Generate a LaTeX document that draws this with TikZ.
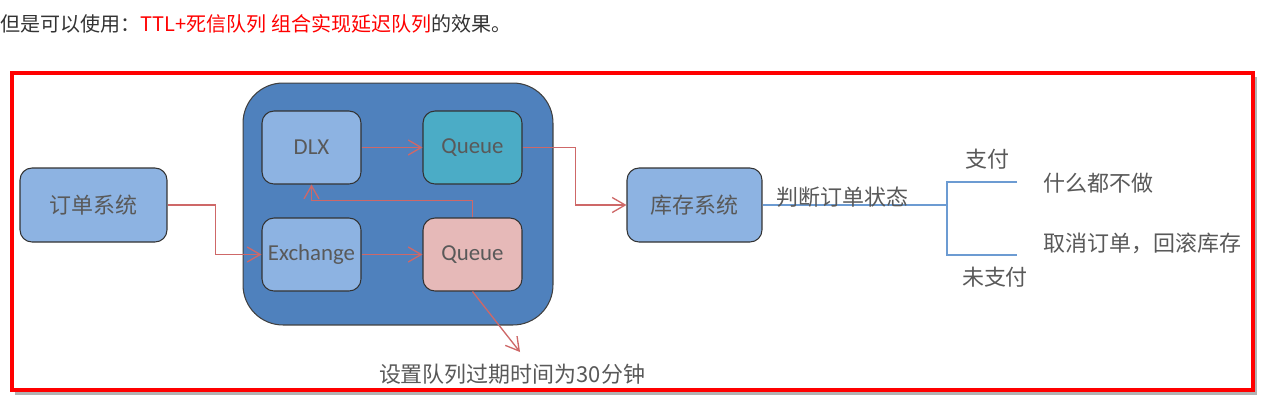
\documentclass[tikz,border=0pt]{standalone}
\usepackage{fontspec}
\newfontfamily\cjk{Noto Sans CJK SC}
\newfontfamily\lat{Carlito}
\usetikzlibrary{arrows.meta}
\definecolor{boxblue}{RGB}{141,179,226}
\definecolor{darkblue}{RGB}{79,129,189}
\definecolor{tealq}{RGB}{75,172,198}
\definecolor{pinkq}{RGB}{230,185,184}
\definecolor{flowred}{RGB}{206,104,104}
\definecolor{lineblue}{RGB}{108,155,210}
\definecolor{textgray}{RGB}{89,89,89}
\begin{document}
\begin{tikzpicture}[x=0.02cm,y=-0.02cm,
	box/.style={rectangle,rounded corners=0.24cm,draw=black!80,line width=0.6pt,fill=boxblue,text=textgray,minimum width=1.98cm,minimum height=1.46cm,inner sep=0pt},
	sysbox/.style={box,minimum height=1.48cm,font=\cjk\fontsize{12.5}{15}\selectfont},
	mqbox/.style={box,font=\lat\fontsize{13}{15}\selectfont},
	flow/.style={line width=0.75pt,color=flowred,-{Straight Barb[length=2.6mm,width=3mm]}},
	lbl/.style={text=textgray,font=\cjk\fontsize{12.5}{15}\selectfont,inner sep=0pt}]
	
	\useasboundingbox (0,0) rectangle (1264,400);
	%title
	\node[anchor=west,inner sep=0pt,text=black!80,font=\cjk\fontsize{11.4}{14}\selectfont](title) at (0,24) {但是可以使用：\textcolor{red}{TTL+死信队列 组合实现延迟队列}的效果。};
	%frame
	\fill[black!30] (15,77) rectangle (1257,395);
	\draw[line width=2.3pt,color=red,fill=white] (12,73) rectangle (1253,390);
	%systems
	\node[sysbox,minimum width=2.94cm](order) at (93.5,205) {订单系统};
	\node[sysbox,minimum width=2.7cm](stock) at (694.5,205) {库存系统};
	%rabbitmq
	\node[rectangle,rounded corners=0.8cm,draw=black!75,line width=0.6pt,fill=darkblue,minimum width=6.2cm,minimum height=4.84cm](mq) at (398,204) {};
	\node[mqbox](dlx) at (311.5,147.5) {DLX};
	\node[mqbox,fill=tealq](dlq) at (472.5,147.5) {Queue};
	\node[mqbox](exch) at (311.5,254.5) {Exchange};
	\node[mqbox,fill=pinkq](ttlq) at (472.5,254.5) {Queue};
	%arrows
	\coordinate (ttltip) at (520,352);
	\draw[flow] (order.east) -- ++(48,0) |- (exch.west);
	\draw[flow] (exch) -- (ttlq);
	\draw[flow] (dlx) -- (dlq);
	\draw[flow] (ttlq.north) -- ++(0,-17) -| (dlx.south);
	\draw[flow] (ttlq.south) -- (ttltip);
	\draw[flow] (dlq.east) -- ++(53,0) |- (stock.west);
	%decision
	\coordinate (split) at (947,205);
	\coordinate (payend) at (1017,182);
	\coordinate (unpayend) at (1017,255);
	\draw[color=lineblue,line width=0.6pt] (stock.east) -- (split);
	\draw[color=lineblue,line width=0.6pt] (payend) -| (split) |- (unpayend);
	%labels
	\node[lbl,anchor=west](judge) at (776,197) {判断订单状态};
	\node[lbl](pay) at (987,159) {支付};
	\node[lbl](unpay) at (995,277) {未支付};
	\node[lbl,anchor=west](nothing) at (1043,183) {什么都不做};
	\node[lbl,anchor=west](cancel) at (1043,243) {取消订单，回滚库存};
	\node[lbl](ttl) at (512,374) {设置队列过期时间为30分钟};
\end{tikzpicture}
\end{document}
